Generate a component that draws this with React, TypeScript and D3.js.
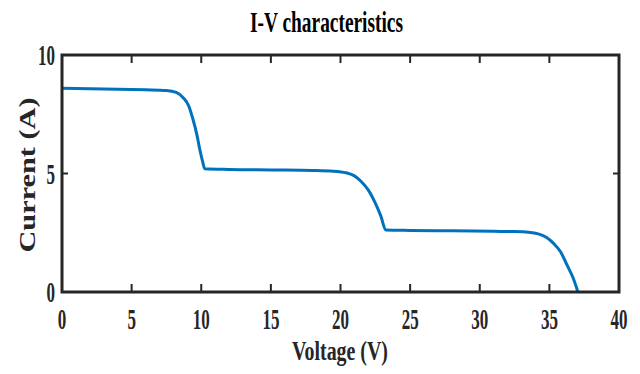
import React, { useEffect, useRef } from 'react';
import * as d3 from 'd3';

// I-V curve (partially shaded PV string, three steps)
const voltage = [0, 2, 4, 6, 7.5, 8.2, 8.7, 9.1, 9.4, 9.7, 9.9, 10.1, 10.25, 12, 15, 18, 19.5, 20.4, 21, 21.5, 22, 22.5, 22.9, 23.25, 25, 28, 31, 32.5, 33.5, 34.2, 34.8, 35.3, 35.8, 36.3, 36.7, 37.05];
const current = [8.6, 8.58, 8.56, 8.53, 8.5, 8.42, 8.2, 7.85, 7.3, 6.6, 6.0, 5.5, 5.2, 5.17, 5.15, 5.13, 5.1, 5.03, 4.9, 4.65, 4.3, 3.75, 3.2, 2.62, 2.6, 2.58, 2.56, 2.55, 2.52, 2.45, 2.3, 2.05, 1.7, 1.1, 0.6, 0];

const xTicks = [0, 5, 10, 15, 20, 25, 30, 35, 40];
const yTicks = [0, 5, 10];

const title = 'I-V characteristics';
const xLabel = 'Voltage (V)';
const yLabel = 'Current (A)';

const width = 640;
const height = 374;
const font = '"Liberation Serif", "Times New Roman", serif';
const axisColor = '#262626';

const App: React.FC = () => {
  const svgRef = useRef<SVGSVGElement>(null);

  useEffect(() => {
    document.body.style.margin = '0';

    const svg = d3.select(svgRef.current);
    svg.selectAll('*').remove(); // limpa

    const margin = { top: 55, right: 21, bottom: 82, left: 62 };
    const innerWidth = width - margin.left - margin.right;
    const innerHeight = height - margin.top - margin.bottom;

    const x = d3.scaleLinear().domain([0, 40]).range([0, innerWidth]);
    const y = d3.scaleLinear().domain([0, 10]).range([innerHeight, 0]);

    const g = svg.append('g')
      .attr('transform', `translate(${margin.left},${margin.top})`);

    // curve
    const points = voltage.map((v, i) => [v, current[i]] as [number, number]);
    const line = d3.line<[number, number]>()
      .x(d => x(d[0]))
      .y(d => y(d[1]))
      .curve(d3.curveMonotoneX);

    g.append('path')
      .datum(points)
      .attr('fill', 'none')
      .attr('stroke', '#0072BD')
      .attr('stroke-width', 3)
      .attr('d', line);

    // ticks inside the box (matlab style)
    const tickLen = 8;
    xTicks.forEach(t => {
      if (t === 0 || t === 40) return;
      g.append('line')
        .attr('x1', x(t)).attr('x2', x(t))
        .attr('y1', innerHeight).attr('y2', innerHeight - tickLen)
        .attr('stroke', axisColor).attr('stroke-width', 2);
      g.append('line')
        .attr('x1', x(t)).attr('x2', x(t))
        .attr('y1', 0).attr('y2', tickLen)
        .attr('stroke', axisColor).attr('stroke-width', 2);
    });
    yTicks.forEach(t => {
      if (t === 0 || t === 10) return;
      g.append('line')
        .attr('x1', 0).attr('x2', 6)
        .attr('y1', y(t)).attr('y2', y(t))
        .attr('stroke', axisColor).attr('stroke-width', 2);
      g.append('line')
        .attr('x1', innerWidth).attr('x2', innerWidth - 6)
        .attr('y1', y(t)).attr('y2', y(t))
        .attr('stroke', axisColor).attr('stroke-width', 2);
    });

    // box
    g.append('rect')
      .attr('x', 0).attr('y', 0)
      .attr('width', innerWidth).attr('height', innerHeight)
      .attr('fill', 'none')
      .attr('stroke', axisColor)
      .attr('stroke-width', 3);

    // tick labels (narrow, the picture is squeezed)
    const digitW = 8.5;
    g.selectAll('text.xt')
      .data(xTicks)
      .join('text')
      .attr('class', 'xt')
      .attr('x', d => x(d))
      .attr('y', innerHeight + 37)
      .attr('text-anchor', 'middle')
      .attr('textLength', d => String(d).length * digitW)
      .attr('lengthAdjust', 'spacingAndGlyphs')
      .style('font-family', font)
      .style('font-weight', 'bold')
      .style('font-size', '29px')
      .attr('fill', axisColor)
      .text(d => String(d));

    g.selectAll('text.yt')
      .data(yTicks)
      .join('text')
      .attr('class', 'yt')
      .attr('x', -7)
      .attr('y', d => y(d) + 10)
      .attr('text-anchor', 'end')
      .attr('textLength', d => String(d).length * digitW)
      .attr('lengthAdjust', 'spacingAndGlyphs')
      .style('font-family', font)
      .style('font-weight', 'bold')
      .style('font-size', '29px')
      .attr('fill', axisColor)
      .text(d => String(d));

    // title
    svg.append('text')
      .attr('x', 250)
      .attr('y', 32)
      .attr('textLength', 153)
      .attr('lengthAdjust', 'spacingAndGlyphs')
      .style('font-family', font)
      .style('font-weight', 'bold')
      .style('font-size', '29px')
      .attr('fill', '#000')
      .text(title);

    // x label
    svg.append('text')
      .attr('x', 292)
      .attr('y', 360)
      .attr('textLength', 96)
      .attr('lengthAdjust', 'spacingAndGlyphs')
      .style('font-family', font)
      .style('font-weight', 'bold')
      .style('font-size', '28px')
      .attr('fill', axisColor)
      .text(xLabel);

    // y label
    svg.append('text')
      .attr('transform', 'translate(35,175) rotate(-90)')
      .attr('x', 0)
      .attr('y', 0)
      .attr('text-anchor', 'middle')
      .attr('textLength', 155)
      .attr('lengthAdjust', 'spacingAndGlyphs')
      .style('font-family', font)
      .style('font-weight', 'bold')
      .style('font-size', '24px')
      .attr('fill', axisColor)
      .text(yLabel);
  }, []);

  return <svg ref={svgRef} width={width} height={height} style={{ display: 'block', background: '#fff' }} />;
};

export default App;
